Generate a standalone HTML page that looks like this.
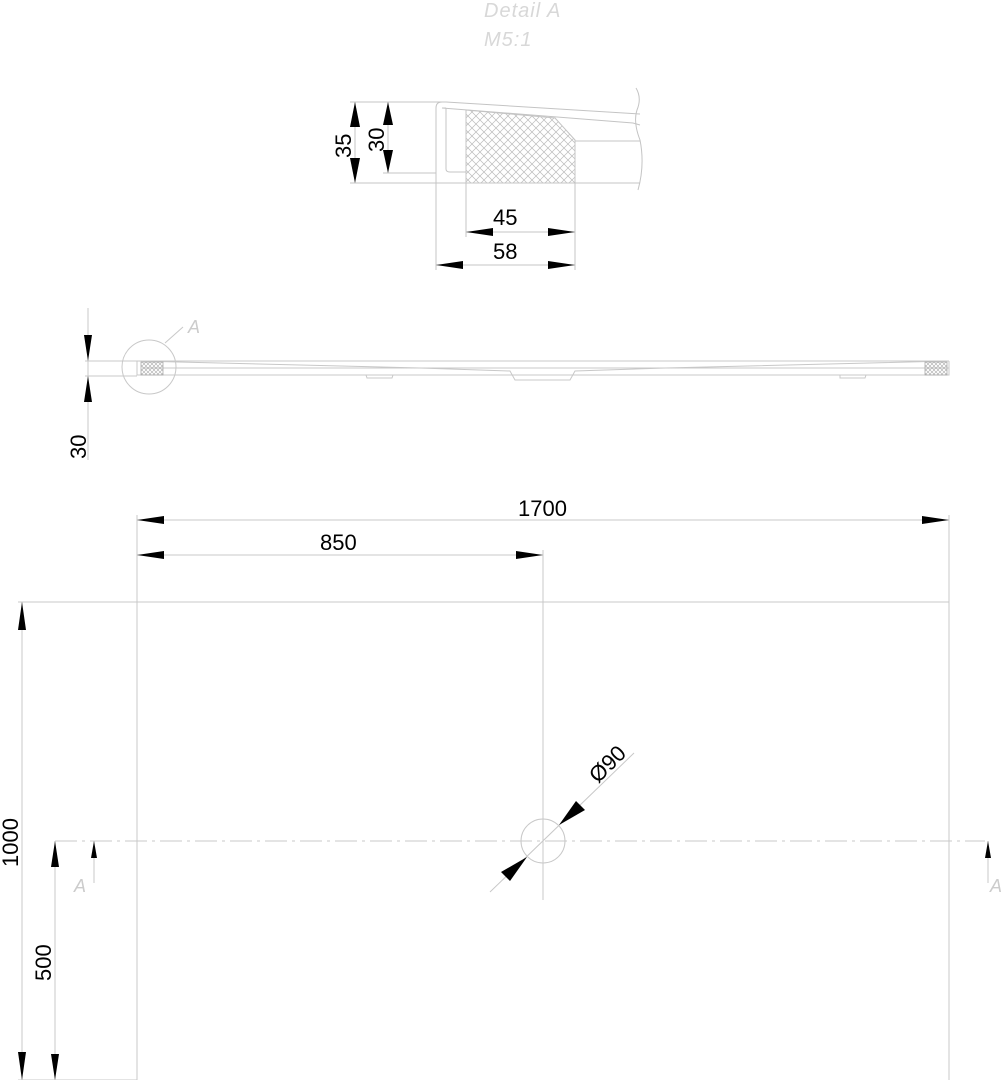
<!DOCTYPE html>
<html><head><meta charset="utf-8"><style>
html,body{margin:0;padding:0;background:#fff;}
svg{display:block;}
text{font-family:"Liberation Sans",sans-serif;}
</style></head><body>
<svg width="1004" height="1080" viewBox="0 0 1004 1080" xmlns="http://www.w3.org/2000/svg">
<defs>
<pattern id="hatch" width="8" height="8" patternUnits="userSpaceOnUse">
<path d="M0 0L8 8M8 0L0 8" stroke="#bbb" stroke-width="0.7"/>
</pattern>
<pattern id="hatch2" width="4" height="4" patternUnits="userSpaceOnUse">
<path d="M0 0L4 4M4 0L0 4" stroke="#aaa" stroke-width="0.6"/>
</pattern>
</defs>
<text x="484" y="17" font-size="20" fill="#d8d8d8" font-style="italic" letter-spacing="1">Detail  A</text>
<text x="484" y="46" font-size="20" fill="#d8d8d8" font-style="italic" letter-spacing="1">M5:1</text>

<!-- DETAIL -->
<g fill="none" stroke="#c4c4c4" stroke-width="1">
<line x1="350" y1="102" x2="446" y2="102"/>
<line x1="350" y1="183" x2="466" y2="183"/>
<line x1="383" y1="173" x2="436" y2="173"/>
<line x1="355" y1="102" x2="355" y2="183"/>
<line x1="388" y1="102" x2="388" y2="173"/>
<path d="M446 102 L640 114 M442 108 L633 123 L640 125"/>
<path d="M436 183 L436 108 Q436 102 442 102 L446 102 M446 108 L446 169 Q446 172 450 172 L466 172"/>
<path d="M442 108 L446 108"/>
<path d="M575 141 L640 141 M575 183 L640 183"/>
<path d="M636 88 Q642 98 637 110 Q633 122 640 140 Q645 165 638 190"/>
<line x1="436" y1="183" x2="436" y2="270"/>
<line x1="466" y1="183" x2="466" y2="237"/>
<line x1="575" y1="183" x2="575" y2="270"/>
<line x1="466" y1="232" x2="575" y2="232"/>
<line x1="436" y1="265" x2="575" y2="265"/>
</g>
<path d="M466 110 L555 118 L575 140 L575 183 L466 183 Z" fill="url(#hatch)" stroke="#c4c4c4" stroke-width="1"/>
<g fill="#000">
<polygon points="355,102 350,127 360,127"/>
<polygon points="355,183 350,158 360,158"/>
<polygon points="388,102 383,125 393,125"/>
<polygon points="388,173 383,150 393,150"/>
<polygon points="466,232 493,228 493,236"/>
<polygon points="575,232 548,228 548,236"/>
<polygon points="436,265 463,261 463,269"/>
<polygon points="575,265 548,261 548,269"/>
</g>
<text x="0" y="0" font-size="22" fill="#000" transform="translate(351,158) rotate(-90)">35</text>
<text x="0" y="0" font-size="22" fill="#000" transform="translate(384,152) rotate(-90)">30</text>
<text x="493" y="225" font-size="22" fill="#000">45</text>
<text x="493" y="259" font-size="22" fill="#000">58</text>

<!-- SIDE VIEW -->
<g fill="none" stroke="#c8c8c8" stroke-width="1">
<line x1="85" y1="361" x2="949" y2="361"/>
<line x1="85" y1="376" x2="137" y2="376"/>
<line x1="88" y1="308" x2="88" y2="460"/>
<circle cx="149" cy="367" r="27"/>
<line x1="165" y1="343" x2="183" y2="327"/>
<path d="M137 361 L137 375 L949 375 L949 361"/>
<path d="M142 368 L949 368"/>
<path d="M137 361 L420 368 L510 371 L515 380 L570 380 L575 371 L665 368 L949 361"/>
<path d="M366 375 L367 378 L392 378 L393 375 M840 375 L840 378 L865 378 L866 375"/>
</g>
<rect x="141" y="362" width="22" height="13" fill="url(#hatch2)" stroke="#aaa" stroke-width="0.8"/>
<rect x="925" y="362" width="22" height="13" fill="url(#hatch2)" stroke="#aaa" stroke-width="0.8"/>
<text x="188" y="333" font-size="18" fill="#ccc" font-style="italic">A</text>
<g fill="#000">
<polygon points="88,361 84,335 92,335"/>
<polygon points="88,376 84,402 92,402"/>
</g>
<text x="0" y="0" font-size="22" fill="#000" transform="translate(86,459) rotate(-90)">30</text>

<!-- PLAN -->
<g fill="none" stroke="#c8c8c8" stroke-width="1">
<rect x="137" y="602" width="812" height="490"/>
<line x1="137" y1="515" x2="137" y2="602"/>
<line x1="949" y1="515" x2="949" y2="602"/>
<line x1="543" y1="550" x2="543" y2="900"/>
<line x1="137" y1="520" x2="949" y2="520"/>
<line x1="137" y1="555" x2="543" y2="555"/>
<line x1="18" y1="602" x2="137" y2="602"/>
<line x1="18" y1="1080" x2="137" y2="1080"/>
<line x1="22" y1="602" x2="22" y2="1080"/>
<line x1="55" y1="841" x2="55" y2="1080"/>
<line x1="55" y1="841" x2="985" y2="841" stroke-dasharray="22,5,3,5"/>
<line x1="94" y1="841" x2="94" y2="883"/>
<line x1="988" y1="841" x2="988" y2="883"/>
<circle cx="543" cy="841" r="22"/>
<line x1="490" y1="892" x2="634" y2="753"/>
</g>
<g fill="#000">
<polygon points="137,520 164,516 164,524"/>
<polygon points="949,520 922,516 922,524"/>
<polygon points="137,555 164,551 164,559"/>
<polygon points="543,555 516,551 516,559"/>
<polygon points="22,602 18,630 26,630"/>
<polygon points="22,1080 18,1052 26,1052"/>
<polygon points="55,841 51,867 59,867"/>
<polygon points="55,1080 51,1054 59,1054"/>
<polygon points="94,841 91,858 97,858"/>
<polygon points="988,841 985,858 991,858"/>
<polygon points="559,825 576,801 585,810"/>
<polygon points="527,857 510,881 501,872"/>
</g>
<text x="518" y="516" font-size="22" fill="#000">1700</text>
<text x="320" y="550" font-size="22" fill="#000">850</text>
<text x="0" y="0" font-size="22" fill="#000" transform="translate(18,867) rotate(-90)">1000</text>
<text x="0" y="0" font-size="22" fill="#000" transform="translate(51,981) rotate(-90)">500</text>
<text x="0" y="0" font-size="22" fill="#000" transform="translate(598,784) rotate(-45)">Ø90</text>
<text x="74" y="892" font-size="18" fill="#ccc" font-style="italic">A</text>
<text x="990" y="892" font-size="18" fill="#ccc" font-style="italic">A</text>
</svg>
</body></html>
